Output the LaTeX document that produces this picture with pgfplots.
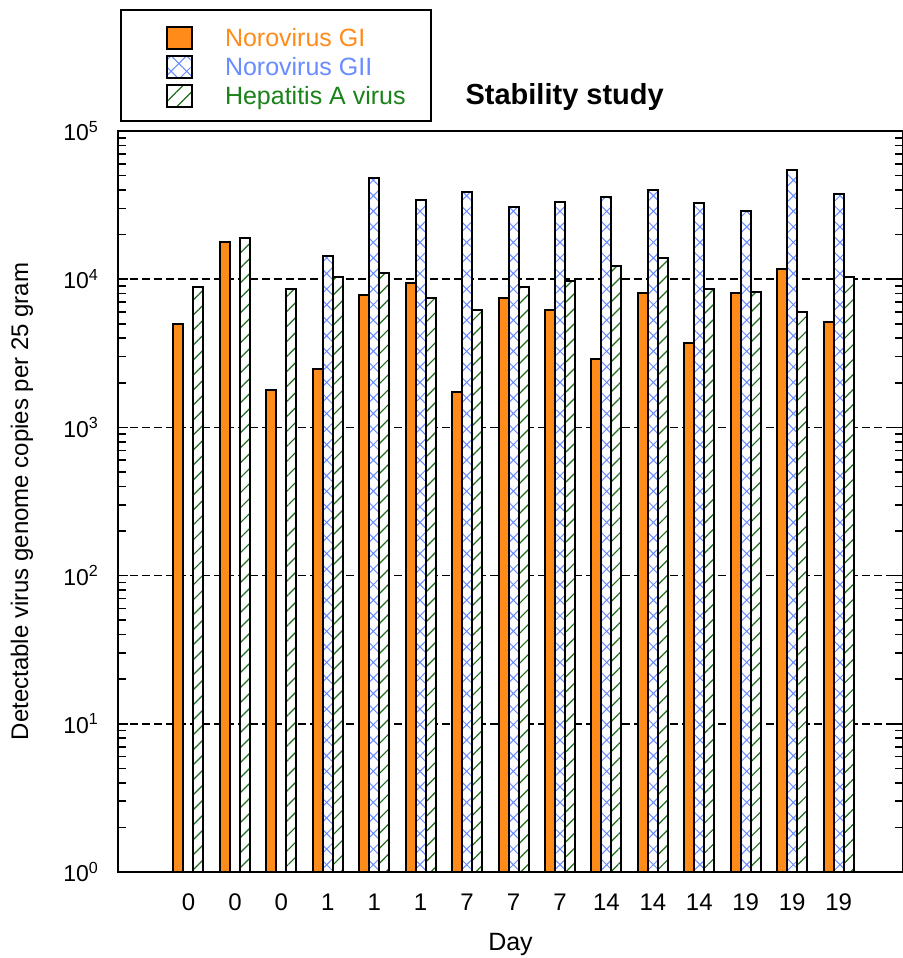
\documentclass[border=0pt]{standalone}
\usepackage{fontspec}
\setmainfont{Liberation Sans}
\usepackage{pgfplots}
\pgfplotsset{compat=1.18}
\usetikzlibrary{patterns.meta,calc}

\definecolor{ora}{RGB}{255,140,26}
\definecolor{blu}{RGB}{105,140,255}
\definecolor{grn}{RGB}{25,130,25}
\definecolor{hgrn}{RGB}{30,110,30}

\begin{document}
\begin{tikzpicture}
\begin{axis}[
  scale only axis,
  width=392.5pt, height=370.5pt,
  ybar=0pt, bar width=5pt,
  ymode=log, log basis y=10,
  ymin=1, ymax=1e5,
  xmin=-0.518, xmax=16.387,
  xtick={1,...,15},
  xticklabels={0,0,0,1,1,1,7,7,7,14,14,14,19,19,19},
  ytick={1,10,100,1000,10000,100000},
  minor ytick={2,3,4,5,6,7,8,9,20,30,40,50,60,70,80,90,200,300,400,500,600,700,800,900,2000,3000,4000,5000,6000,7000,8000,9000,20000,30000,40000,50000,60000,70000,80000,90000},
  yticklabel={10\textsuperscript{\pgfmathparse{int(round(\tick))}\pgfmathresult}},
  ymajorgrids,
  grid style={black, line width=0.8pt, dash pattern=on 4pt off 2pt},
  axis line style={line width=1pt},
  major tick length=5pt, minor tick length=4pt,
  tick style={black, line width=0.8pt},
  xtick style={/pgfplots/major tick length=0pt},
  tick label style={font=\fontsize{12}{14}\selectfont},
  xticklabel style={yshift=-2.5pt},
  yticklabel style={xshift=-6pt, font=\fontsize{11.5}{14}\selectfont},
  title={Stability study},
  title style={at={(axis description cs:0.569,1)}, anchor=base, yshift=7pt, font=\fontsize{14.5}{17}\selectfont\bfseries},
  xlabel={Day},
  xlabel style={at={(axis description cs:0.5,0)}, anchor=center, yshift=-36pt, font=\fontsize{12.5}{15}\selectfont},
  ylabel={Detectable virus genome copies per 25 gram},
  ylabel style={at={(axis description cs:-0.1223,0.5)}, anchor=center, font=\fontsize{12}{14}\selectfont},
  legend style={at={(axis description cs:0.00255,1)}, anchor=south west, yshift=4.5pt,
    draw=black, line width=1pt, inner xsep=22.5pt, inner ysep=6.375pt, row sep=1pt, column sep=16pt,
    font=\fontsize{12.5}{15}\selectfont,
    nodes={inner sep=0pt, text height=11.5pt, text depth=2pt}},
  legend cell align=left,
  legend image code/.code={\draw[#1,line width=1pt] (0pt,-6.25pt) rectangle (12.5pt,4.75pt);},
]
\addplot[fill=ora, draw=black, line width=1pt] coordinates {
(1,4990) (2,17800) (3,1790) (4,2470) (5,7780) (6,9470) (7,1730) (8,7500)
(9,6200) (10,2900) (11,8030) (12,3730) (13,8030) (14,11800) (15,5140)};
\addlegendentry{\makebox[80.5pt][l]{\textcolor{ora}{Norovirus GI}}}
\addplot[fill=white, postaction={pattern={Hatch[angle=45,distance=5.5pt,line width=0.5pt]}, pattern color=blu}, draw=black, line width=1pt] coordinates {
(1,nan) (2,nan) (3,nan) (4,14350) (5,48200) (6,34000) (7,38900) (8,30800)
(9,33000) (10,36000) (11,40000) (12,32800) (13,29000) (14,54600) (15,37600)};
\addlegendentry{\makebox[80.5pt][l]{\textcolor{blu}{Norovirus GII}}}
\addplot[fill=white, postaction={pattern={Lines[angle=45,distance=5.3pt,line width=0.6pt]}, pattern color=hgrn}, draw=black, line width=1pt] coordinates {
(1,8820) (2,19000) (3,8590) (4,10400) (5,11000) (6,7500) (7,6200) (8,8820)
(9,9680) (10,12200) (11,13900) (12,8550) (13,8240) (14,5980) (15,10300)};
\addlegendentry{\makebox[80.5pt][l]{\textcolor{grn}{Hepatitis A virus}}}
\coordinate (bl) at (rel axis cs:0,0);
\coordinate (tr) at (rel axis cs:1,1);
\end{axis}
\pgfresetboundingbox
\path ($(bl)+(-59pt,-43pt)$) rectangle ($(tr)+(0pt,65.5pt)$);
\end{tikzpicture}
\end{document}
